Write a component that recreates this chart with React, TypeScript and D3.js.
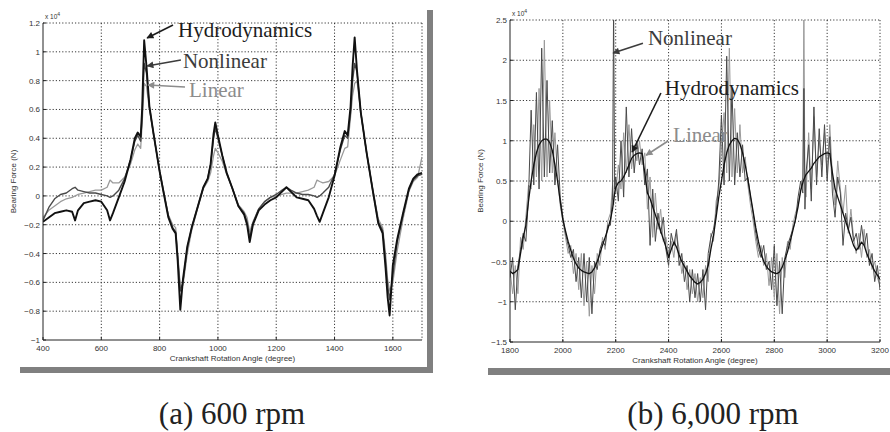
import React from "react";
import * as d3 from "d3";

// ---- (a) 600 rpm ----
const leftAngles = [
  400, 420, 440, 460, 480, 500, 510, 520, 540, 560,
  580, 600, 620, 630, 640, 660, 680, 700, 715, 725,
  735, 740, 747, 755, 765, 780, 800, 815, 830, 845,
  855, 862, 871, 880, 895, 910, 930, 950, 965, 975,
  985, 991, 1000, 1015, 1030, 1050, 1070, 1090, 1100, 1109,
  1120, 1140, 1160, 1180, 1200, 1220, 1235, 1250, 1270, 1290,
  1310, 1330, 1340, 1349, 1360, 1380, 1400, 1420, 1435, 1445,
  1455, 1462, 1469, 1477, 1490, 1510, 1530, 1550, 1565, 1575,
  1582, 1589, 1600, 1615, 1635, 1655, 1670, 1685, 1700,
];
const leftHydro = [
  -0.18, -0.15, -0.12, -0.11, -0.1, -0.11, -0.17, -0.1, -0.05, -0.04,
  -0.03, -0.04, -0.1, -0.17, -0.12, -0.01, 0.1, 0.25, 0.4, 0.44,
  0.41, 0.6, 1.08, 0.9, 0.62, 0.42, 0.17, 0.01, -0.15, -0.23,
  -0.26, -0.45, -0.79, -0.58, -0.35, -0.22, -0.08, 0.06, 0.12, 0.22,
  0.43, 0.51, 0.42, 0.28, 0.16, 0.05, -0.07, -0.13, -0.2, -0.32,
  -0.2, -0.1, -0.06, -0.03, -0.01, 0.03, 0.06, 0.03, -0.01, -0.02,
  -0.03, -0.09, -0.14, -0.18, -0.12, -0.01, 0.14, 0.34, 0.45, 0.42,
  0.62, 0.9, 1.1, 0.87, 0.58, 0.3, 0.05, -0.19, -0.26, -0.5,
  -0.7, -0.83, -0.48, -0.3, -0.12, 0.05, 0.12, 0.15, 0.16,
];
const leftNonlinear = [
  -0.17, -0.08, -0.02, 0.01, 0.02, 0.05, 0.06, 0.04, 0.03, 0.02,
  0.02, 0.01, 0.0, -0.01, 0.0, 0.04, 0.12, 0.25, 0.38, 0.42,
  0.38, 0.55, 0.92, 0.85, 0.62, 0.42, 0.17, 0.01, -0.14, -0.22,
  -0.25, -0.42, -0.66, -0.6, -0.36, -0.22, -0.08, 0.06, 0.12, 0.22,
  0.4, 0.47, 0.4, 0.28, 0.16, 0.05, -0.07, -0.12, -0.18, -0.29,
  -0.19, -0.09, -0.04, -0.01, 0.01, 0.04, 0.06, 0.04, 0.02, 0.01,
  0.01, 0.0, -0.01, 0.0, 0.02, 0.06, 0.15, 0.32, 0.42, 0.4,
  0.58, 0.8, 0.92, 0.86, 0.58, 0.3, 0.05, -0.18, -0.24, -0.45,
  -0.62, -0.72, -0.55, -0.32, -0.13, 0.04, 0.11, 0.14, 0.15,
];
const leftLinear = [
  -0.15, -0.1, -0.07, -0.04, -0.02, -0.01, 0.0, 0.01, 0.02, 0.03,
  0.04, 0.04, 0.06, 0.11, 0.09, 0.09, 0.13, 0.22, 0.32, 0.36,
  0.33, 0.5, 0.78, 0.76, 0.6, 0.42, 0.18, 0.02, -0.13, -0.2,
  -0.22, -0.4, -0.63, -0.62, -0.4, -0.24, -0.09, 0.05, 0.1, 0.16,
  0.28, 0.33, 0.3, 0.24, 0.15, 0.05, -0.06, -0.11, -0.15, -0.25,
  -0.18, -0.09, -0.04, -0.01, 0.0, 0.01, 0.02, 0.02, 0.02, 0.03,
  0.04, 0.06, 0.11, 0.1, 0.09, 0.1, 0.14, 0.25, 0.33, 0.34,
  0.55, 0.7, 0.78, 0.8, 0.58, 0.3, 0.06, -0.16, -0.22, -0.4,
  -0.58, -0.66, -0.6, -0.38, -0.16, 0.03, 0.1, 0.13, 0.27,
];
const leftXTicks = [400, 600, 800, 1000, 1200, 1400, 1600];
const leftYTicks = [-1, -0.8, -0.6, -0.4, -0.2, 0, 0.2, 0.4, 0.6, 0.8, 1, 1.2];

// ---- (b) 6,000 rpm ----
const rightAngles = [
  1800, 1810, 1820, 1830, 1840, 1850, 1860, 1870, 1880, 1890,
  1900, 1910, 1920, 1930, 1940, 1950, 1960, 1970, 1980, 1990,
  2000, 2010, 2020, 2030, 2040, 2050, 2060, 2070, 2080, 2090,
  2100, 2110, 2120, 2130, 2140, 2150, 2160, 2170, 2180,
  2188, 2192, 2196,
  2200, 2210, 2220, 2230, 2240, 2250, 2260, 2270, 2280, 2290,
  2300, 2310, 2320, 2330, 2340, 2350, 2360, 2370, 2380, 2390,
  2400, 2410, 2420, 2430, 2440, 2450, 2460, 2470, 2480, 2490,
  2500, 2510, 2520, 2530, 2540, 2550, 2560, 2570, 2580, 2590,
  2600, 2610, 2620, 2630, 2640, 2650, 2660, 2670, 2680, 2690,
  2700, 2710, 2720, 2730, 2740, 2750, 2760, 2770, 2780, 2790,
  2800, 2810, 2820, 2830, 2840, 2850, 2860, 2870, 2880, 2890,
  2900,
  2908, 2912, 2916,
  2920, 2930, 2940, 2950, 2960, 2970, 2980, 2990,
  3000, 3010, 3020, 3030, 3040, 3050, 3060, 3070, 3080, 3090,
  3100, 3110, 3120, 3130, 3140, 3150, 3160, 3170, 3180, 3190,
  3200,
];
const rightHydro = [
  -0.62, -0.65, -0.63, -0.6, -0.4, -0.2, -0.05, 0.25, 0.5, 0.7,
  0.85, 0.95, 1.0, 1.02, 1.02, 0.98, 0.88, 0.7, 0.5, 0.25,
  0.02, -0.12, -0.25, -0.36, -0.46, -0.53, -0.58, -0.61, -0.63, -0.64,
  -0.65, -0.63, -0.58, -0.5, -0.4, -0.3, -0.2, -0.1, 0.02,
  0.15, 0.25, 0.35,
  0.42, 0.48, 0.5, 0.55, 0.62, 0.7, 0.78, 0.82, 0.84, 0.85,
  0.84, 0.6, 0.35, 0.28, 0.18, 0.08, -0.02, -0.12, -0.22, -0.32,
  -0.45, -0.35, -0.26, -0.32, -0.42, -0.5, -0.56, -0.62, -0.68, -0.72,
  -0.76, -0.78, -0.76, -0.72, -0.65, -0.55, -0.35, -0.18, 0.05, 0.3,
  0.5, 0.7, 0.85, 0.95, 1.0, 1.03, 1.02, 0.96, 0.85, 0.7,
  0.52, 0.32, 0.12, -0.08, -0.25, -0.4, -0.5, -0.56, -0.6, -0.63,
  -0.64, -0.65, -0.63, -0.57, -0.48, -0.38, -0.25, -0.12, 0.02, 0.18,
  0.38,
  0.48, 0.52, 0.55,
  0.58, 0.62, 0.66, 0.72, 0.76, 0.8, 0.82, 0.84,
  0.85, 0.84, 0.6, 0.4, 0.3, 0.2, 0.1, 0.0, -0.1, -0.2,
  -0.3, -0.36, -0.32, -0.26, -0.3, -0.4, -0.48, -0.55, -0.62, -0.67,
  -0.72,
];
const rightNonlinear = [
  -0.7, -0.45, -1.1, -0.55, -0.35, -0.15, -0.25, 0.3, 1.38, 0.45,
  1.6, 0.4, 2.15, 0.55, 1.75, 0.6, 1.25, 0.45, 0.95, 0.3,
  0.05, -0.15, -0.3, -0.45, -0.35, -0.75, -0.45, -0.95, -0.4, -1.0,
  -0.45, -1.15, -0.5, -0.6, -0.35, -0.25, -0.3, -0.05, -0.05,
  0.3, 2.7, 0.4,
  0.55, 0.25, 1.0, 0.3, 1.42, 0.55, 1.15, 0.6, 1.0, 0.7,
  0.9, 0.45, 0.65, -0.3, 0.4, -0.25, 0.1, -0.15, 0.05, -0.35,
  -0.55, -0.15, -0.3, -0.1, -0.55, -0.4, -0.75, -0.55, -1.0, -0.6,
  -0.95, -0.65, -1.0, -0.6, -1.1, -0.4, -0.2, -0.1, 0.1, 0.5,
  1.32, 0.45, 2.05, 0.5, 1.65, 0.45, 1.1, 0.55, 0.95, 0.5,
  0.55, 0.3, 0.1, -0.15, -0.35, -0.45, -0.3, -0.6, -0.5, -0.85,
  -0.3, -1.05, -0.5, -1.15, -0.45, -0.3, -0.2, -0.1, 0.0, 0.3,
  0.5,
  0.35, 1.65, 0.15,
  0.6, 0.95, 0.25, 1.42, 0.45, 1.15, 0.55, 1.2,
  0.5, 1.05, 0.35, 0.05, 0.55, 0.35, -0.3, 0.1, -0.1, 0.05,
  -0.25, -0.15, -0.35, -0.05, -0.3, -0.15, -0.55, -0.4, -0.75, -0.55,
  -0.85,
];
const rightLinear = [
  -0.6, -0.9, -0.55, -0.9, -0.2, -0.35, 0.05, 0.45, 0.4, 1.2,
  0.55, 1.65, 0.5, 2.25, 0.55, 1.5, 0.6, 1.1, 0.55, 0.2,
  0.0, -0.2, -0.4, -0.3, -0.65, -0.4, -0.85, -0.4, -1.05, -0.5,
  -1.18, -0.55, -0.9, -0.4, -0.55, -0.2, -0.35, 0.0, 0.1,
  0.45, 0.2, 0.55,
  0.35, 0.7, 0.4, 1.1, 0.6, 1.2, 0.65, 0.95, 0.75, 1.0,
  0.7, 0.85, 0.15, 0.55, -0.2, 0.35, -0.1, 0.15, -0.25, -0.2,
  -0.4, -0.25, -0.45, -0.15, -0.35, -0.65, -0.5, -0.85, -0.6, -0.9,
  -0.65, -1.0, -0.7, -0.95, -0.55, -0.75, -0.15, -0.25, 0.25, 0.4,
  0.9, 1.35, 0.6, 2.15, 0.55, 1.4, 0.6, 1.2, 0.6, 0.8,
  0.45, 0.2, 0.0, -0.25, -0.45, -0.3, -0.55, -0.4, -0.8, -0.45,
  -0.95, -0.4, -1.15, -0.45, -0.7, -0.25, -0.35, -0.05, 0.1, 0.2,
  0.4,
  0.55, 2.7, 0.45,
  0.3, 1.1, 0.4, 1.3, 0.55, 1.0, 0.7, 1.1,
  0.6, 1.2, 0.55, 0.2, 0.75, 0.4, 0.1, 0.45, -0.15, 0.15,
  -0.2, -0.4, -0.15, -0.45, -0.1, -0.45, -0.35, -0.6, -0.5, -0.7,
  -0.8,
];
const rightXTicks = [1800, 2000, 2200, 2400, 2600, 2800, 3000, 3200];
const rightYTicks = [-1.5, -1, -0.5, 0, 0.5, 1, 1.5, 2, 2.5];

const seriesNames = ["Hydrodynamics", "Nonlinear", "Linear"];
const seriesColors = ["#111", "#4a4a4a", "#9a9a9a"];
const labelColors = ["#1c1c1c", "#3c3c3c", "#8c8c8c"];

const fmt = (v: number) => (v < 0 ? "\u2212" + Math.abs(v) : String(v));

type Note = { text: string; tx: number; ty: number; from: [number, number]; to: [number, number]; k: number };

const Panel = ({ id, box, xDomain, yDomain, xTicks, yTicks, angles, series, widths, notes, shadow }) => {
  const x = d3.scaleLinear().domain(xDomain).range([box.left, box.right]);
  const y = d3.scaleLinear().domain(yDomain).range([box.bottom, box.top]);
  const line = d3
    .line<number>()
    .x((d, i) => x(angles[i]))
    .y((d) => y(d));
  const gridColor = "#222";
  const dash = "1.2 2";
  const xGrid = xTicks.filter((t) => t !== xDomain[0]).concat(xTicks.includes(xDomain[1]) ? [] : [xDomain[1]]);
  const yGrid = yTicks.filter((t) => t !== yDomain[0]);
  const font = "'Liberation Sans', Arial, sans-serif";

  return (
    <g>
      {shadow.map((r, i) => (
        <rect key={i} x={r[0]} y={r[1]} width={r[2]} height={r[3]} fill="#808080" />
      ))}
      <defs>
        <clipPath id={id}>
          <rect x={box.left} y={box.top} width={box.right - box.left} height={box.bottom - box.top} />
        </clipPath>
        {labelColors.map((c, i) => (
          <marker key={i} id={`${id}-arrow${i}`} viewBox="0 0 10 10" refX="9" refY="5" markerWidth="8" markerHeight="7" orient="auto" markerUnits="userSpaceOnUse">
            <path d="M0,0 L10,5 L0,10 z" fill={c} />
          </marker>
        ))}
      </defs>
      {xGrid.map((t) => (
        <line key={"gx" + t} x1={x(t)} x2={x(t)} y1={box.top} y2={box.bottom} stroke={gridColor} strokeDasharray={dash} strokeWidth={0.9} />
      ))}
      {yGrid.map((t) => (
        <line key={"gy" + t} x1={box.left} x2={box.right} y1={y(t)} y2={y(t)} stroke={gridColor} strokeDasharray={dash} strokeWidth={0.9} />
      ))}
      <g clipPath={`url(#${id})`}>
        {[2, 1, 0].map((k) => (
          <path key={k} d={line(series[k]) || ""} fill="none" stroke={seriesColors[k]} strokeWidth={widths[k]} strokeLinejoin="round" />
        ))}
      </g>
      <line x1={box.left} x2={box.left} y1={box.top} y2={box.bottom} stroke="#222" strokeWidth={1} />
      <line x1={box.left} x2={box.right} y1={box.bottom} y2={box.bottom} stroke="#222" strokeWidth={1} />
      {xTicks.map((t) => (
        <g key={"tx" + t}>
          <line x1={x(t)} x2={x(t)} y1={box.bottom} y2={box.bottom - 3} stroke="#222" />
          <text x={x(t)} y={box.bottom + 11} textAnchor="middle" fontSize={8} fontFamily={font} fill="#333">
            {fmt(t)}
          </text>
        </g>
      ))}
      {yTicks.map((t) => (
        <g key={"ty" + t}>
          <line x1={box.left} x2={box.left + 3} y1={y(t)} y2={y(t)} stroke="#222" />
          <text x={box.left - 3} y={y(t) + 3} textAnchor="end" fontSize={8} fontFamily={font} fill="#333">
            {fmt(t)}
          </text>
        </g>
      ))}
      <text x={box.left + 2} y={box.top - 4} fontSize={6.5} fontFamily={font} fill="#333">
        x 10<tspan dy={-3} fontSize={5}>4</tspan>
      </text>
      <text x={(box.left + box.right) / 2} y={box.bottom + 21} textAnchor="middle" fontSize={8} fontFamily={font} fill="#333">
        Crankshaft Rotation Angle (degree)
      </text>
      <text transform={`translate(${box.left - 27},${(box.top + box.bottom) / 2}) rotate(-90)`} textAnchor="middle" fontSize={8} fontFamily={font} fill="#333">
        Bearing Force (N)
      </text>
      {notes.map((n: Note, i) => (
        <g key={"n" + i}>
          <line x1={x(n.from[0])} y1={y(n.from[1])} x2={x(n.to[0])} y2={y(n.to[1])} stroke={labelColors[n.k]} strokeWidth={1.6} markerEnd={`url(#${id}-arrow${n.k})`} />
          <text x={x(n.tx)} y={y(n.ty)} fontSize={21} fontFamily="'Liberation Serif', 'Times New Roman', serif" fill={labelColors[n.k]}>
            {n.text}
          </text>
        </g>
      ))}
    </g>
  );
};

const leftNotes: Note[] = [
  { text: seriesNames[0], k: 0, tx: 863, ty: 1.103, from: [846, 1.186], to: [757, 1.096] },
  { text: seriesNames[1], k: 1, tx: 880, ty: 0.888, from: [873, 0.943], to: [757, 0.902] },
  { text: seriesNames[2], k: 2, tx: 901, ty: 0.686, from: [887, 0.756], to: [760, 0.77] },
];
const rightNotes: Note[] = [
  { text: seriesNames[1], k: 1, tx: 2322, ty: 2.19, from: [2303, 2.21], to: [2190, 2.09] },
  { text: seriesNames[0], k: 0, tx: 2386, ty: 1.568, from: [2371, 1.593], to: [2262, 0.86] },
  { text: seriesNames[2], k: 2, tx: 2417, ty: 0.985, from: [2398, 0.997], to: [2315, 0.82] },
];

const serif = "'Liberation Serif', 'Times New Roman', serif";

export default function App() {
  return (
    <div style={{ position: "absolute", left: 0, top: 0 }}>
      <svg width={890} height={432} style={{ display: "block", background: "#fff" }}>
        <Panel
          id="pa"
          box={{ left: 43, right: 422, top: 23, bottom: 340 }}
          xDomain={[400, 1700]}
          yDomain={[-1, 1.2]}
          xTicks={leftXTicks}
          yTicks={leftYTicks}
          angles={leftAngles}
          series={[leftHydro, leftNonlinear, leftLinear]}
          widths={[1.9, 1.4, 1.3]}
          notes={leftNotes}
          shadow={[
            [427, 10, 6, 363],
            [20, 367, 413, 6],
          ]}
        />
        <Panel
          id="pb"
          box={{ left: 510, right: 880, top: 20, bottom: 342 }}
          xDomain={[1800, 3200]}
          yDomain={[-1.5, 2.5]}
          xTicks={rightXTicks}
          yTicks={rightYTicks}
          angles={rightAngles}
          series={[rightHydro, rightNonlinear, rightLinear]}
          widths={[1.3, 1, 1]}
          notes={rightNotes}
          shadow={[[488, 368, 402, 7]]}
        />
        <text x={232} y={424} textAnchor="middle" fontSize={31} fontFamily={serif} fill="#222">
          (a) 600 rpm
        </text>
        <text x={713} y={424} textAnchor="middle" fontSize={31} fontFamily={serif} fill="#222">
          (b) 6,000 rpm
        </text>
      </svg>
    </div>
  );
}
